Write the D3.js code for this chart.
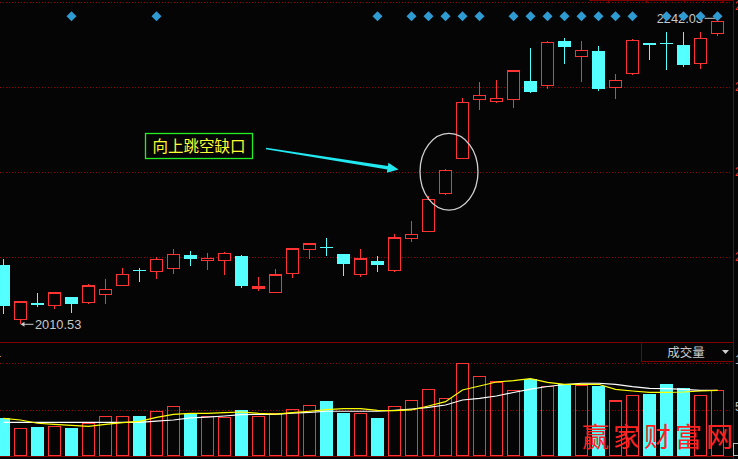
<!DOCTYPE html>
<html><head><meta charset="utf-8">
<script src="https://cdn.jsdelivr.net/npm/d3@7"></script>
<style>html,body{margin:0;padding:0;background:#050505;overflow:hidden}svg{display:block}</style>
</head><body>
<script>
// ---- data ----
const openP  = [2055.3,2013.8,2026.0,2024.2,2030.8,2026.5,2032.6,2039.5,2051.8,2050.5,2052.5,2063.0,2058.9,2058.9,2062.2,2037.0,2034.1,2048.7,2067.4,2069.4,2063.8,2047.9,2058.4,2051.3,2075.8,2081.2,2110.3,2137.1,2182.3,2180.4,2182.3,2196.3,2192.7,2226.7,2215.2,2219.3,2191.2,2202.2,2225.2,2225.5,2223.9,2209.9,2232.8];
const highP  = [2059.9,2027.0,2033.9,2034.7,2030.8,2040.8,2044.6,2053.0,2053.0,2061.2,2067.6,2066.1,2064.5,2065.3,2063.2,2046.2,2052.3,2068.4,2071.4,2076.0,2063.8,2067.6,2062.2,2079.1,2089.0,2108.5,2128.9,2183.0,2195.5,2197.1,2204.7,2221.6,2226.7,2229.2,2226.9,2222.9,2201.7,2228.5,2225.2,2233.8,2233.8,2233.8,2242.03];
const lowP   = [2018.0,2010.53,2023.4,2021.6,2018.6,2025.7,2025.7,2039.5,2042.6,2044.8,2048.7,2054.8,2051.7,2047.9,2038.0,2035.4,2033.7,2045.6,2059.9,2062.5,2047.1,2046.4,2050.0,2050.2,2073.2,2081.2,2109.0,2137.1,2174.3,2179.4,2175.9,2187.3,2189.9,2209.6,2195.8,2188.4,2182.7,2201.1,2212.6,2204.9,2207.3,2205.7,2231.0];
const closeP = [2024.2,2027.0,2025.0,2033.9,2025.7,2039.3,2036.7,2048.2,2051.2,2059.7,2063.5,2060.2,2060.5,2064.3,2039.5,2038.5,2047.7,2067.6,2071.4,2068.9,2056.3,2059.9,2055.6,2076.0,2078.9,2105.7,2127.9,2180.0,2185.3,2183.0,2203.9,2188.1,2225.9,2222.6,2219.8,2190.4,2196.8,2227.5,2224.1,2224.9,2208.8,2229.0,2242.03];
const volume = [4.09,2.98,3.12,3.19,3.01,3.52,4.27,4.27,4.30,4.81,5.34,4.55,4.27,4.16,4.95,4.27,4.59,5.02,5.45,5.91,4.62,4.59,4.09,5.34,5.99,7.17,6.20,9.97,8.57,7.96,7.06,8.28,7.49,7.71,7.60,7.56,5.91,6.53,6.67,7.74,7.28,6.53,7.06];
const volMA5  = [4.05,3.87,3.52,3.41,3.30,3.19,3.41,3.58,3.73,4.16,4.48,4.59,4.59,4.66,4.73,4.59,4.50,4.66,4.81,4.98,5.09,5.09,4.91,4.87,4.95,5.38,5.84,7.10,7.53,7.96,8.10,8.31,7.92,7.71,7.71,7.71,7.17,6.99,6.85,6.85,6.88,6.99,7.06];
const volMA10 = [3.62,3.62,3.62,3.62,3.62,3.62,3.62,3.62,3.62,3.76,3.87,4.09,4.19,4.30,4.45,4.48,4.48,4.62,4.70,4.81,4.81,4.81,4.81,4.91,5.05,5.22,5.48,6.02,6.20,6.45,6.83,7.20,7.47,7.69,7.82,7.82,7.71,7.45,7.28,7.24,7.17,7.06,7.06];
const signalIdx = [4,9,22,24,25,26,27,28,30,31,32,33,34,35,36,37,39,40,41,42];
const priceTicks = [2061.5,2126.6,2191.7,2256.8];
const priceTickLabels = ["2061.5","2126.6","2191.7","2256.8"];
const volTicks = [5,10];
const volTickLabels = ["50000","100000"];
const lowLabel = "2010.53", highLabel = "2242.03";
const annotationText = "向上跳空缺口";
const volTitle = "成交量";
const watermark = "赢家财富网";

// ---- setup ----
const W = 738, H = 459;
const RED = "#ff3333", CYAN = "#54ffff", GRID = "#990000", FRAME = "#800000";
const svg = d3.select("body").append("svg").attr("width", W).attr("height", H);
svg.append("rect").attr("width", W).attr("height", H).attr("fill", "#050505");

const n = openP.length;
const x = d3.scaleLinear().domain([0, n - 1]).range([3.5, 3.5 + 17 * (n - 1)]);
const y = d3.scaleLinear().domain([2010.53, 2242.03]).range([323.5, 21.3]);
const yv = d3.scaleLinear().domain([0, 10]).range([456, 363]);
const axisX = 733;

const data = d3.range(n).map(i => ({i, o: openP[i], h: highP[i], l: lowP[i], c: closeP[i], v: volume[i], up: closeP[i] >= openP[i]}));

// ---- grid lines ----
const g = svg.append("g").attr("shape-rendering", "crispEdges");
g.selectAll(".pg").data(priceTicks).join("line")
  .attr("x1", 0).attr("x2", axisX - 1)
  .attr("y1", d => Math.round(y(d)) + 0.5).attr("y2", d => Math.round(y(d)) + 0.5)
  .attr("stroke", GRID).attr("stroke-dasharray", "1,2");
g.selectAll(".vg").data(volTicks).join("line")
  .attr("x1", 0).attr("x2", axisX - 1)
  .attr("y1", d => Math.round(yv(d)) + 0.5).attr("y2", d => Math.round(yv(d)) + 0.5)
  .attr("stroke", GRID).attr("stroke-dasharray", "1,2");

// frame lines
g.append("line").attr("x1", 0).attr("x2", axisX).attr("y1", 342.5).attr("y2", 342.5).attr("stroke", FRAME).attr("stroke-width", 1.5);
g.append("line").attr("x1", 0).attr("x2", axisX).attr("y1", 456.5).attr("y2", 456.5).attr("stroke", FRAME).attr("stroke-width", 1.5);
g.append("line").attr("x1", axisX + 0.5).attr("x2", axisX + 0.5).attr("y1", 0).attr("y2", H).attr("stroke", FRAME);
// top toolbar edge
g.append("line").attr("x1", 589).attr("x2", axisX).attr("y1", 0.5).attr("y2", 0.5).attr("stroke", FRAME);
g.selectAll(".tt").data(d3.range(8)).join("line")
  .attr("x1", d => 608.5 + d * 19).attr("x2", d => 608.5 + d * 19).attr("y1", 0).attr("y2", 3).attr("stroke", FRAME);

// right axis labels (clipped by the window edge, as in the reference)
svg.selectAll(".pl").data(priceTicks).join("text")
  .attr("x", 735).attr("y", d => Math.max(y(d), 6) + 4)
  .attr("fill", "#ff3333").attr("font-family", "Liberation Sans, Arial").attr("font-size", 12)
  .text((d, i) => priceTickLabels[i]);
svg.selectAll(".vl").data(volTicks).join("text")
  .attr("x", 735).attr("y", d => yv(d) + 1)
  .attr("fill", "#c0c0c0").attr("font-family", "Liberation Sans, Arial").attr("font-size", 12)
  .text((d, i) => volTickLabels[i]);

// ---- candles ----
const cg = svg.append("g").attr("shape-rendering", "crispEdges");
data.forEach(d => {
  const cx = x(d.i);
  const yTop = y(Math.max(d.o, d.c)), yBot = y(Math.min(d.o, d.c));
  const col = d.up ? RED : CYAN;
  if (d.up) {
    cg.append("line").attr("x1", cx).attr("x2", cx).attr("y1", y(d.h)).attr("y2", yTop).attr("stroke", col);
    cg.append("line").attr("x1", cx).attr("x2", cx).attr("y1", yBot).attr("y2", y(d.l)).attr("stroke", col);
    if (yBot - yTop < 2) {
      cg.append("rect").attr("x", cx - 6.5).attr("y", yTop - 0.5).attr("width", 13).attr("height", Math.max(yBot - yTop, 1) + 1).attr("fill", col);
    } else {
      cg.append("rect").attr("x", cx - 6).attr("y", yTop).attr("width", 12).attr("height", yBot - yTop)
        .attr("fill", "#050505").attr("stroke", col).attr("stroke-width", 1.2);
    }
  } else {
    cg.append("line").attr("x1", cx).attr("x2", cx).attr("y1", y(d.h)).attr("y2", y(d.l)).attr("stroke", col);
    cg.append("rect").attr("x", cx - 6.5).attr("y", yTop).attr("width", 13).attr("height", Math.max(yBot - yTop, 1.2)).attr("fill", col);
  }
});

// ---- volume bars ----
const vg = svg.append("g").attr("shape-rendering", "crispEdges");
vg.selectAll("rect").data(data).join("rect")
  .attr("x", d => d.up ? x(d.i) - 6 : x(d.i) - 6.5)
  .attr("width", d => d.up ? 12 : 13)
  .attr("y", d => yv(d.v))
  .attr("height", d => yv(0) - yv(d.v) - (d.up ? 0.5 : 0))
  .attr("fill", d => d.up ? "none" : CYAN)
  .attr("stroke", d => d.up ? RED : "none").attr("stroke-width", 1.2);

// MA lines
const line = arr => d3.line().x((d, i) => x(i)).y(d => yv(d))(arr);
svg.append("path").attr("d", line(volMA10)).attr("fill", "none").attr("stroke", "#ffffff").attr("stroke-width", 1.2);
svg.append("path").attr("d", line(volMA5)).attr("fill", "none").attr("stroke", "#ffff00").attr("stroke-width", 1.2);

// ---- high / low labels ----
const lowI = lowP.indexOf(d3.min(lowP)), highI = highP.indexOf(d3.max(highP));
const lx = x(lowI), ly = y(lowP[lowI]) + 0.8;
svg.append("line").attr("x1", lx + 2).attr("x2", lx + 13).attr("y1", ly).attr("y2", ly).attr("stroke", "#c8c8c8");
svg.append("path").attr("d", `M${lx},${ly}L${lx + 4},${ly - 2.5}L${lx + 4},${ly + 2.5}Z`).attr("fill", "#c8c8c8");
svg.append("text").attr("x", lx + 14.5).attr("y", ly + 5).attr("fill", "#c8c8c8")
  .attr("font-family", "Liberation Sans, Arial").attr("font-size", 12.8).text(lowLabel);

const hx = x(highI), hy = y(highP[highI]) - 3;
svg.append("line").attr("x1", hx - 13).attr("x2", hx - 2).attr("y1", hy).attr("y2", hy).attr("stroke", "#c8c8c8");
svg.append("text").attr("x", hx - 14.5).attr("y", hy + 5).attr("text-anchor", "end").attr("fill", "#c8c8c8")
  .attr("font-family", "Liberation Sans, Arial").attr("font-size", 12.8).text(highLabel);

// ---- signal diamonds (drawn over the label, as in the reference) ----
svg.selectAll(".dm").data(signalIdx).join("path")
  .attr("d", "M0,-5L5,0L0,5L-5,0Z")
  .attr("transform", d => `translate(${x(d)},16.3)`)
  .attr("fill", "#2f9bd3");

// ---- annotation ----
const gapI = 26;
svg.append("ellipse").attr("cx", x(gapI) + 3.5).attr("cy", y((openP[gapI] + closeP[gapI]) / 2) - 10)
  .attr("rx", 29).attr("ry", 38.3).attr("fill", "none").attr("stroke", "#d0d0d0").attr("stroke-width", 1.3);
svg.append("rect").attr("x", 145.5).attr("y", 133.5).attr("width", 107).attr("height", 25)
  .attr("fill", "#050505").attr("stroke", "#22ee22").attr("stroke-width", 1.3);
svg.append("text").attr("x", 199).attr("y", 152).attr("text-anchor", "middle").attr("fill", "#ffff33")
  .attr("font-family", "Noto Sans CJK SC").attr("font-size", 15.5).text(annotationText);

// cyan arrow
{
  const x0 = 266, y0 = 148.5, x1 = 398.5, y1 = 169.5;
  const dx = x1 - x0, dy = y1 - y0, L = Math.hypot(dx, dy), ux = dx / L, uy = dy / L, px = -uy, py = ux;
  const hl = 11, hw = 5, w0 = 0.7, w1 = 1.8;
  const bx = x1 - ux * hl, by = y1 - uy * hl;
  const pts = [
    [x0 + px * w0, y0 + py * w0], [bx + px * w1, by + py * w1], [bx + px * hw, by + py * hw], [x1, y1],
    [bx - px * hw, by - py * hw], [bx - px * w1, by - py * w1], [x0 - px * w0, y0 - py * w0]
  ];
  svg.append("path").attr("d", "M" + pts.map(p => p.join(",")).join("L") + "Z").attr("fill", "#22e8f0");
}

// ---- volume panel title box ----
svg.append("rect").attr("x", 641.5).attr("y", 342.5).attr("width", axisX - 641.5).attr("height", 19)
  .attr("fill", "#050505").attr("stroke", FRAME).attr("shape-rendering", "crispEdges");
svg.append("text").attr("x", 686).attr("y", 357).attr("text-anchor", "middle").attr("fill", "#c8c8c8")
  .attr("font-family", "Noto Sans CJK SC").attr("font-size", 12.5).text(volTitle);
svg.append("path").attr("d", "M722,350L729,350L725.5,354Z").attr("fill", "#d0d0d0");
svg.append("text").attr("x", -5).attr("y", 357).attr("fill", "#ffffff")
  .attr("font-family", "Liberation Sans, Arial").attr("font-size", 11).text("1");

// ---- watermark ----
svg.append("text").attr("x", 582).attr("y", 447).attr("fill", "#ff2222")
  .attr("font-family", "Noto Sans CJK SC").attr("font-size", 27)
  .attr("letter-spacing", 4).text(watermark);
// small corner box
svg.append("rect").attr("x", 733.5).attr("y", 443.5).attr("width", 6).attr("height", 12)
  .attr("fill", "none").attr("stroke", "#c0c0c0").attr("shape-rendering", "crispEdges");
</script>
</body></html>
